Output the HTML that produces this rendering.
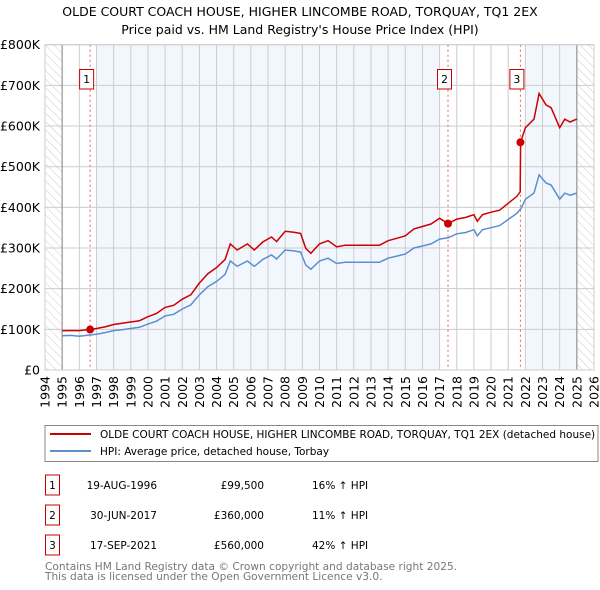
<!DOCTYPE html>
<html><head><meta charset="utf-8"><style>
body{margin:0;background:#fff;font-family:"Liberation Sans","DejaVu Sans",sans-serif;}
svg{display:block}
text{font-family:"DejaVu Sans","Liberation Sans",sans-serif;}
</style></head><body>
<svg id="c" width="600" height="590">
<defs><pattern id="hatch" width="6" height="6" patternUnits="userSpaceOnUse" patternTransform="rotate(-45)"><line x1="0" y1="0" x2="0" y2="6" stroke="#ccc" stroke-width="1"/></pattern></defs>
<text x="300" y="16" text-anchor="middle" font-size="12.5" fill="#000">OLDE COURT COACH HOUSE, HIGHER LINCOMBE ROAD, TORQUAY, TQ1 2EX</text>
<text x="300" y="34" text-anchor="middle" font-size="12.5" fill="#000">Price paid vs. HM Land Registry's House Price Index (HPI)</text>
<g id="plot"></g>
<rect x="45" y="425.5" width="553" height="36" fill="#fff" stroke="#888"/>
<line x1="50" y1="434" x2="91" y2="434" stroke="#cc0000" stroke-width="2"/>
<text x="100" y="438" font-size="10.5">OLDE COURT COACH HOUSE, HIGHER LINCOMBE ROAD, TORQUAY, TQ1 2EX (detached house)</text>
<line x1="50" y1="451" x2="91" y2="451" stroke="#5b8fd0" stroke-width="2"/>
<text x="100" y="455" font-size="10.5">HPI: Average price, detached house, Torbay</text>
<g id="tbl" font-size="10.5"></g>
<text x="45" y="570" font-size="10.6" fill="#777">Contains HM Land Registry data © Crown copyright and database right 2025.</text>
<text x="45" y="580" font-size="10.6" fill="#777">This data is licensed under the Open Government Licence v3.0.</text>
</svg>
<script>
const dates=[1995.0,1995.5,1996.0,1996.6,1997.0,1997.5,1998.0,1998.5,1999.0,1999.5,2000.0,2000.5,2001.0,2001.5,2002.0,2002.5,2003.0,2003.5,2004.0,2004.5,2004.8,2005.2,2005.8,2006.2,2006.7,2007.2,2007.5,2008.0,2008.5,2008.9,2009.2,2009.5,2010.0,2010.5,2011.0,2011.5,2012.0,2012.5,2013.0,2013.5,2014.0,2014.5,2015.0,2015.5,2016.0,2016.5,2017.0,2017.5,2018.0,2018.5,2019.0,2019.2,2019.5,2020.0,2020.5,2021.0,2021.5,2021.7,2021.72,2022.0,2022.5,2022.8,2023.2,2023.5,2024.0,2024.3,2024.6,2025.0];
const hpiValues=[84,85,83,86,88,92,97,99,102,105,113,120,133,137,150,160,185,205,218,235,268,255,268,255,272,283,273,295,293,290,258,248,268,275,262,265,265,265,265,265,275,280,285,300,305,310,322,325,335,338,345,330,345,350,355,370,385,395,395,420,435,480,460,455,420,435,430,435];
const propertyValues=[97,97,97,99.5,102,106,112,115,118,121,131,139,154,159,174,185,214,237,252,272,310,295,310,295,315,327,316,341,339,336,299,287,310,318,303,307,307,307,307,307,318,324,330,347,353,359,373,360,371,375,382,366,382,388,393,410,427,438,560,596,617,680,652,645,596,617,610,617];
const saleDates=[1996.63,2017.49,2021.71];
const salePrices=[99.5,360,560];
const saleLabels=["1","2","3"];
const saleDateText=["19-AUG-1996","30-JUN-2017","17-SEP-2021"];
const salePriceText=["£99,500","£360,000","£560,000"];
const saleHpiText=["16% ↑ HPI","11% ↑ HPI","42% ↑ HPI"];
const yTicks=[0,100,200,300,400,500,600,700,800];
const yTickLabels=["£0","£100K","£200K","£300K","£400K","£500K","£600K","£700K","£800K"];
const xYears=[];for(let y=1994;y<=2026;y++)xYears.push(y);

const NS="http://www.w3.org/2000/svg";
const X0=45,X1=594,Y0=370,Y1=44.7;
const xs=v=>X0+(v-1994)/(2026-1994)*(X1-X0);
const ys=v=>Y0-v/800*(Y0-Y1);
const g=document.getElementById('plot');
function mk(tag,at,parent){const e=document.createElementNS(NS,tag);for(const k in at)e.setAttribute(k,at[k]);(parent||g).appendChild(e);return e;}
let e;
e=mk('rect',{x:X0,y:Y1,width:X1-X0,height:Y0-Y1,fill:'#fff'});


[[1997,2017],[2022,2025]].forEach(b=>{e=mk('rect',{x:xs(b[0]),y:Y1,width:xs(b[1])-xs(b[0]),height:Y0-Y1,fill:'#f2f6fd'});

});
[[1994,1995],[2025,2026]].forEach(b=>{e=mk('rect',{x:xs(b[0]),y:Y1,width:xs(b[1])-xs(b[0]),height:Y0-Y1,fill:'url(#hatch)'});

});
xYears.forEach(y=>{e=mk('line',{x1:xs(y),x2:xs(y),y1:Y1,y2:Y0,stroke:'#ccc','stroke-width':1});


const t=mk('text',{x:0,y:0,'font-size':12.5,'text-anchor':'end',transform:`translate(${xs(y)+4.5},${Y0+6}) rotate(-90)`});t.textContent=y;

});
yTicks.forEach((v,i)=>{e=mk('line',{x1:X0,x2:X1,y1:ys(v),y2:ys(v),stroke:'#ccc','stroke-width':1});


const t=mk('text',{x:X0-5,y:ys(v)+4.5,'font-size':12.5,'text-anchor':'end'});t.textContent=yTickLabels[i];

});
[1995,2025].forEach(y=>{e=mk('line',{x1:xs(y),x2:xs(y),y1:Y1,y2:Y0,stroke:'#888','stroke-width':1});

});
saleDates.forEach((d,i)=>{e=mk('line',{x1:xs(d),x2:xs(d),y1:Y1,y2:Y0,stroke:'#e06060','stroke-width':1,'stroke-dasharray':'2,3'});

});
const path=(vals,col,name)=>{e=mk('polyline',{points:dates.map((d,i)=>xs(d).toFixed(1)+','+ys(vals[i]).toFixed(1)).join(' '),fill:'none',stroke:col,'stroke-width':1.5});

};
path(hpiValues,'#5b8fd0','hpi-line');
path(propertyValues,'#cc0000','property-price-line');
saleDates.forEach((d,i)=>{e=mk('circle',{cx:xs(d),cy:ys(salePrices[i]),r:4,fill:'#cc0000'});


const bx=xs(d)-10.5;
e=mk('rect',{x:bx,y:69.5,width:14,height:19.5,fill:'#fff',stroke:'#cc0000'});


const t=mk('text',{x:bx+7,y:83,'font-size':11,'text-anchor':'middle'});t.textContent=saleLabels[i];

});
e=mk('rect',{x:X0,y:Y1,width:X1-X0,height:Y0-Y1,fill:'none',stroke:'#ccc'});
const tb=document.getElementById('tbl');
saleLabels.forEach((l,i)=>{const cy=485+i*30;
let r=mk('rect',{x:45.5,y:cy-10,width:14,height:20,fill:'#fff',stroke:'#cc0000'},tb);


const cells=[[52.5,'middle',l,'table-row-number'],[157,'end',saleDateText[i],'table-row-date'],[264,'end',salePriceText[i],'table-row-price'],[312,'start',saleHpiText[i],'table-row-hpi-change']];
cells.forEach(c=>{const t=mk('text',{x:c[0],y:cy+4,'text-anchor':c[1]},tb);t.textContent=c[2];

});});
</script>
</body></html>
